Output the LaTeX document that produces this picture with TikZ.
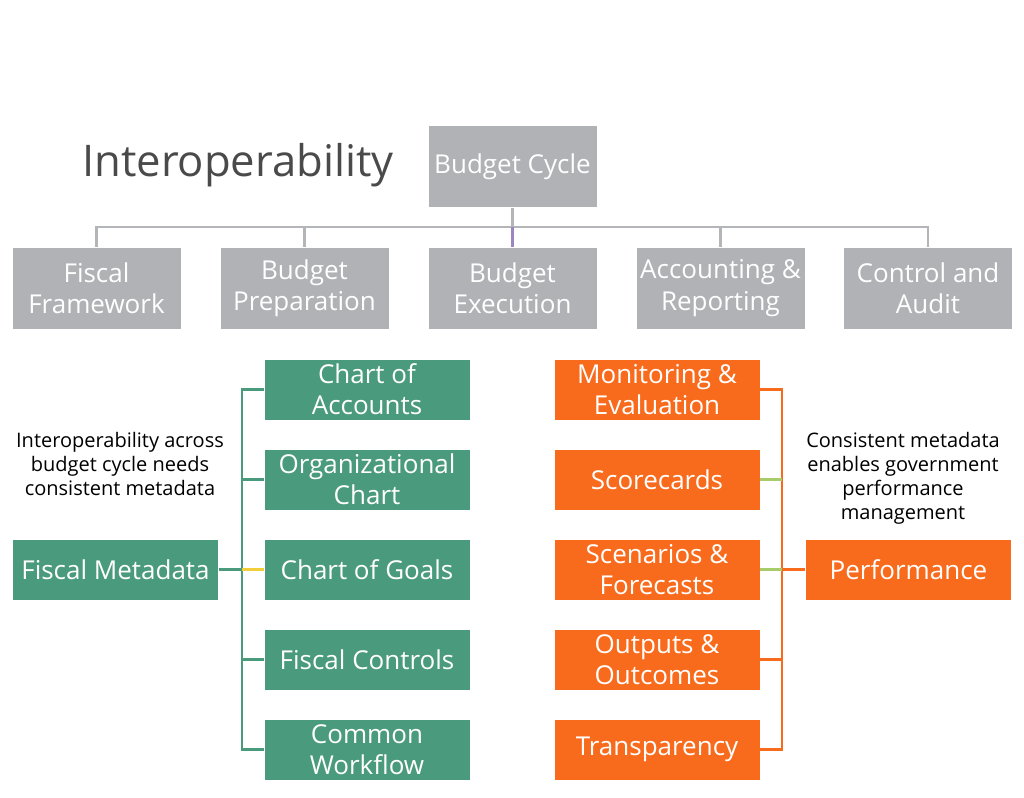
\documentclass[tikz,border=0pt]{standalone}
\usepackage{fontspec}
\setmainfont{Open Sans}
\definecolor{cyclegray}{HTML}{B1B2B6}
\definecolor{linegray}{HTML}{B4B5B9}
\definecolor{metagreen}{HTML}{4A9A7E}
\definecolor{perforange}{HTML}{F96B1C}
\definecolor{stubyellow}{HTML}{F2CF3A}
\definecolor{stublime}{HTML}{A9CC6B}
\definecolor{stubpurple}{HTML}{9B86C2}
\definecolor{titlegray}{HTML}{4A4A4A}
\tikzset{
  box/.style={inner sep=0pt, align=center, text=white, draw=white, line width=0.6pt,
    font=\fontsize{19.5}{23.5}\selectfont},
  phasebox/.style={box, fill=cyclegray, minimum width=126.75pt, minimum height=61.5pt},
  greenbox/.style={box, fill=metagreen, minimum width=154.5pt, minimum height=45.75pt},
  orangebox/.style={box, fill=perforange, minimum width=154.5pt, minimum height=45.75pt},
  note/.style={align=center, font=\fontsize{15}{18}\selectfont},
  grayline/.style={linegray, line width=2.2pt},
  greenline/.style={metagreen, line width=2.2pt},
  orangeline/.style={perforange, line width=2.2pt}
}
\begin{document}
\begin{tikzpicture}[x=0.75pt,y=-0.75pt]
\useasboundingbox (0,0) rectangle (1024,798);
% top row
\node[font=\fontsize{32.7}{36}\selectfont, text=titlegray] (title) at (238,165) {Interoperability};
\node[phasebox] (cycle) at (512.5,166.5) {Budget Cycle};
\node[phasebox] (ff) at (96.5,288) {Fiscal\\Framework};
\node[phasebox] (bp) at (304.5,288) {Budget\\Preparation};
\node[phasebox] (be) at (512.5,288) {Budget\\Execution};
\node[phasebox] (ar) at (720.5,288) {Accounting \&\\Reporting};
\node[phasebox] (ca) at (928,288) {Control and\\Audit};
\coordinate (bus) at (0,227);
\draw[grayline] (ff.north) -- (ff.north |- bus) -- (ca.north |- bus) -- (ca.north);
\draw[grayline] (cycle.south) -- (cycle.south |- bus);
\draw[grayline] (bp.north) -- (bp.north |- bus);
\draw[grayline] (ar.north) -- (ar.north |- bus);
\draw[stubpurple, line width=2.2pt] (be.north) -- (be.north |- bus);
% fiscal metadata
\node[greenbox] (meta) at (115.5,569.5) {Fiscal Metadata};
\node[greenbox] (coa) at (367,389.5) {Chart of\\Accounts};
\node[greenbox] (org) at (367,479.5) {Organizational\\Chart};
\node[greenbox] (goals) at (367,569.5) {Chart of Goals};
\node[greenbox] (ctrl) at (367,659.5) {Fiscal Controls};
\node[greenbox] (flow) at (367,749.5) {Common\\Workflow};
\node[note] (metanote) at (120,464) {Interoperability across\\budget cycle needs\\consistent metadata};
\coordinate (gtrunk) at (242,0);
\draw[greenline] (coa.west) -- (coa.west -| gtrunk) -- (flow.west -| gtrunk) -- (flow.west);
\foreach \n in {org,ctrl}
  \draw[greenline] (\n.west -| gtrunk) -- (\n.west);
\draw[greenline] (meta.east) -- (meta.east -| gtrunk);
\draw[stubyellow, line width=2.2pt] (goals.west -| gtrunk) -- (goals.west);
% performance
\node[orangebox] (perf) at (908.5,569.5) {Performance};
\node[orangebox] (me) at (657,389.5) {Monitoring \&\\Evaluation};
\node[orangebox] (score) at (657,479.5) {Scorecards};
\node[orangebox] (scen) at (657,569.5) {Scenarios \&\\Forecasts};
\node[orangebox] (out) at (657,659.5) {Outputs \&\\Outcomes};
\node[orangebox] (trans) at (657,749.5) {Transparency};
\node[note] (perfnote) at (903,478) {Consistent metadata\\enables government\\performance\\management};
\coordinate (otrunk) at (782,0);
\draw[orangeline] (me.east) -- (me.east -| otrunk) -- (trans.east -| otrunk) -- (trans.east);
\draw[orangeline] (out.east) -- (out.east -| otrunk);
\foreach \n in {score,scen}
  \draw[stublime, line width=2.2pt] (\n.east) -- (\n.east -| otrunk);
\draw[orangeline] (perf.west) -- (perf.west -| otrunk);
\end{tikzpicture}
\end{document}
